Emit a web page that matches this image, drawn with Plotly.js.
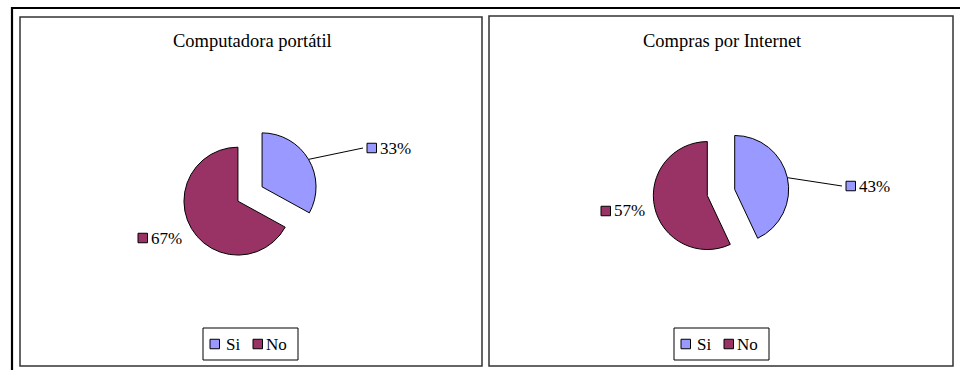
<!DOCTYPE html>
<html>
<head>
<meta charset="utf-8">
<script src="https://cdn.plot.ly/plotly-3.0.1.min.js"></script>
<style>
  html, body { margin: 0; padding: 0; background: #fff; }
  #chart { width: 960px; height: 370px; }
</style>
</head>
<body>
<div id="chart"></div>
<script>
// Survey answers, percent of respondents
const categories = ['Si', 'No'];
const laptopShare = [33, 67];
const onlineShopShare = [43, 57];
const chartTitles = ['Computadora portátil', 'Compras por Internet'];
const sliceColors = ['#9999FF', '#993366'];

const W = 960, H = 370;
const PULL = 0.26;
const FONT = 'Liberation Serif';

// pixel -> paper fraction
const px = x => x / W;
const py = y => 1 - y / H;

// Each chart: frame box, pie centre and box size (px), legend row,
// and where each data label sits relative to the pie centre.
const charts = [
  {
    frame: [20, 17, 482, 366], cx: 250, cy: 194, side: 136, legendY: 344,
    values: laptopShare, title: chartTitles[0],
    labelPos: [{dx: 117, dy: -46, leader: true}, {dx: -112, dy: 44, leader: false}]
  },
  {
    frame: [489, 16, 953, 366], cx: 721, cy: 192.5, side: 136, legendY: 344,
    values: onlineShopShare, title: chartTitles[1],
    labelPos: [{dx: 125, dy: -6.5, leader: true}, {dx: -120, dy: 18.5, leader: false}]
  }
];

// legend layout relative to the pie centre (px)
const LEGEND_BOX = [-47, 48];
const LEGEND_KEYS = [-40, 3];
const LEGEND_TEXT = [-26, 14];

const traces = [];
const shapes = [];
const annotations = [];

// outer frame (runs off the right and bottom edges)
shapes.push({type: 'rect', xref: 'paper', yref: 'paper', layer: 'below',
  x0: px(12), y0: py(8), x1: px(975), y1: py(385),
  line: {color: '#000', width: 2.2}, fillcolor: 'rgba(0,0,0,0)'});

const keySquare = (x, y, color) => ({type: 'rect', xref: 'paper', yref: 'paper',
  x0: px(x), x1: px(x + 9.5), y0: py(y + 4.75), y1: py(y - 4.75),
  fillcolor: color, line: {color: '#000', width: 1}});

charts.forEach(c => {
  const half = c.side / 2;
  traces.push({
    type: 'pie',
    values: c.values,
    labels: categories,
    sort: false,
    direction: 'clockwise',
    rotation: 0,
    pull: c.values.map(() => PULL),
    marker: {colors: sliceColors, line: {color: '#000', width: 1}},
    textinfo: 'none',
    hoverinfo: 'label+percent',
    domain: {x: [px(c.cx - half), px(c.cx + half)], y: [py(c.cy + half), py(c.cy - half)]},
    showlegend: false
  });

  // chart frame
  shapes.push({type: 'rect', xref: 'paper', yref: 'paper', layer: 'below',
    x0: px(c.frame[0]), y0: py(c.frame[1]), x1: px(c.frame[2]), y1: py(c.frame[3]),
    line: {color: '#333', width: 1.5}, fillcolor: '#fff'});

  // title
  annotations.push({xref: 'paper', yref: 'paper', x: px((c.frame[0] + c.frame[2]) / 2 + 1), y: py(41),
    xanchor: 'center', yanchor: 'middle', showarrow: false, text: c.title,
    font: {family: FONT, size: 18.5, color: '#000'}});

  // legend box under the pie
  shapes.push({type: 'rect', xref: 'paper', yref: 'paper',
    x0: px(c.cx + LEGEND_BOX[0]), x1: px(c.cx + LEGEND_BOX[1]),
    y0: py(c.legendY + 16), y1: py(c.legendY - 16),
    fillcolor: '#fff', line: {color: '#000', width: 1}});
  categories.forEach((name, i) => {
    shapes.push(keySquare(c.cx + LEGEND_KEYS[i], c.legendY, sliceColors[i]));
    annotations.push({xref: 'paper', yref: 'paper', x: px(c.cx + LEGEND_TEXT[i]), y: py(c.legendY),
      xanchor: 'left', yanchor: 'middle', showarrow: false, text: name,
      font: {family: FONT, size: 17, color: '#000'}});
  });

  // data labels: legend key + percent, leader line to the slice when moved out
  const r = half / (1 + PULL);
  const total = c.values.reduce((a, b) => a + b, 0);
  let cum = 0;
  c.values.forEach((v, i) => {
    const mid = (cum + v / 2) / total * 2 * Math.PI;
    cum += v;
    const ux = Math.sin(mid), uy = -Math.cos(mid);
    const scx = c.cx + PULL * r * ux, scy = c.cy + PULL * r * uy;
    const ex = scx + r * ux, ey = scy + r * uy;
    const lp = c.labelPos[i];
    const tx = c.cx + lp.dx, ty = c.cy + lp.dy;
    shapes.push(keySquare(tx, ty, sliceColors[i]));
    annotations.push({xref: 'paper', yref: 'paper', x: px(tx + 11), y: py(ty),
      xanchor: 'left', yanchor: 'middle', showarrow: false,
      text: Math.round(v / total * 100) + '%',
      font: {family: FONT, size: 17, color: '#000'}});
    if (lp.leader) {
      shapes.push({type: 'line', xref: 'paper', yref: 'paper',
        x0: px(ex), y0: py(ey), x1: px(tx - 4), y1: py(ty),
        line: {color: '#000', width: 1}});
    }
  });
});

const layout = {
  width: W, height: H,
  margin: {l: 0, r: 0, t: 0, b: 0, autoexpand: false},
  paper_bgcolor: '#fff',
  font: {family: FONT, color: '#000'},
  showlegend: false,
  shapes: shapes,
  annotations: annotations
};

Plotly.newPlot('chart', traces, layout, {displayModeBar: false, staticPlot: true});
</script>
</body>
</html>
